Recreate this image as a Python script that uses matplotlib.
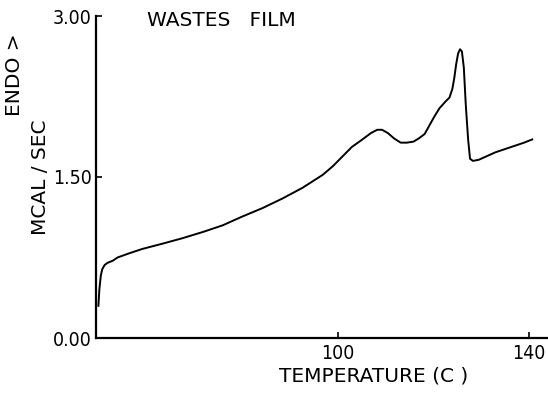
import matplotlib
matplotlib.use("Agg")
import matplotlib.pyplot as plt

# Temperature (C) and heat flow (MCAL/SEC)
temp = [50.0, 50.2, 50.5, 50.8, 51.3, 51.9, 53.0, 54.0, 56.5, 59.2, 63.5, 67.6,
        72.0, 76.0, 80.0, 84.3, 88.5, 92.7, 96.9, 99.0, 101.0, 103.0, 105.2,
        107.0, 108.3, 109.3, 110.5, 111.8, 113.2, 114.5, 115.9, 117.0, 118.2,
        119.2, 120.2, 121.3, 122.5, 123.4, 124.0, 124.4, 124.8, 125.2, 125.6,
        126.0, 126.4, 126.8, 127.3, 127.7, 128.3, 129.5, 131.0, 133.0, 135.0,
        137.0, 139.0, 140.7]
flow = [0.30, 0.45, 0.58, 0.64, 0.68, 0.70, 0.72, 0.75, 0.79, 0.83, 0.88, 0.93,
        0.99, 1.05, 1.13, 1.21, 1.30, 1.40, 1.52, 1.60, 1.69, 1.78, 1.85,
        1.91, 1.94, 1.94, 1.91, 1.86, 1.82, 1.82, 1.83, 1.86, 1.90,
        1.98, 2.06, 2.14, 2.20, 2.24, 2.32, 2.42, 2.55, 2.65, 2.69,
        2.67, 2.52, 2.18, 1.85, 1.67, 1.65, 1.66, 1.69, 1.73, 1.76,
        1.79, 1.82, 1.85]

xticks = [100, 140]
xticklabels = ["100", "140"]
yticks = [0.0, 1.5, 3.0]
yticklabels = ["0.00", "1.50", "3.00"]

plt.rcParams["font.family"] = ["DejaVu Sans"]

fig = plt.figure(figsize=(5.48, 3.97), dpi=100)
ax = fig.add_axes([96/548, 59/397, (548-96)/548, (338-16)/397])
ax.plot(temp, flow, color="black", lw=1.4, solid_joinstyle="round")

ax.set_xlim(49.5, 144.0)
ax.set_ylim(0.0, 3.0)
ax.set_xticks(xticks)
ax.set_xticklabels(xticklabels, fontstretch="condensed")
ax.set_yticks(yticks)
ax.set_yticklabels(yticklabels, fontstretch="condensed")
ax.tick_params(direction="in", length=4, width=1.2, labelsize=14, pad=4, colors="black")
ax.tick_params(axis="y", pad=3)

for s in ["top", "right"]:
    ax.spines[s].set_visible(False)
for s in ["left", "bottom"]:
    ax.spines[s].set_linewidth(1.6)

fig.text(147/548, 1 - 21/397, "WASTES   FILM", fontsize=14.5, ha="left", va="center")
fig.text(40/548, 1 - 177/397, "MCAL / SEC", fontsize=14.5, rotation=90, ha="center", va="center")
fig.text(15/548, 1 - 75/397, "ENDO >", fontsize=14.5, rotation=90, ha="center", va="center")
fig.text(374/548, 1 - 376/397, "TEMPERATURE (C )", fontsize=14.5, ha="center", va="center")

fig.savefig("out.png", dpi=100)
